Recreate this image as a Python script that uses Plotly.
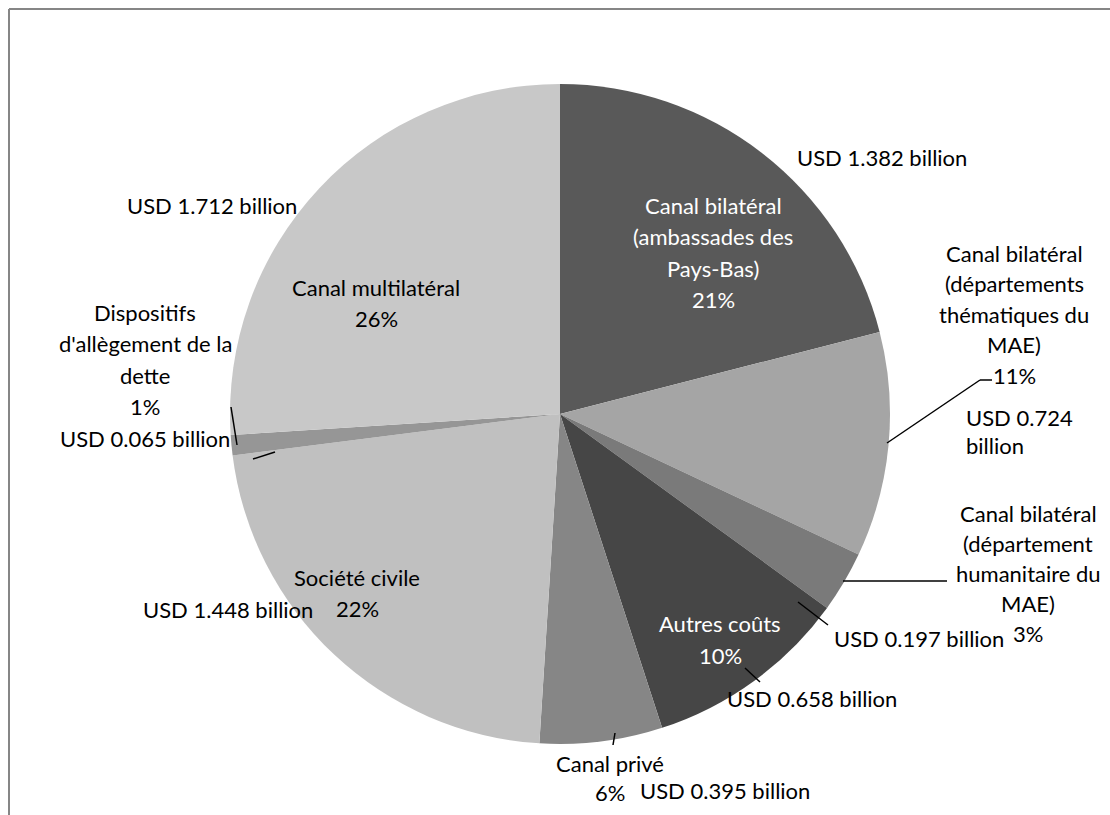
import plotly.graph_objects as go

# Dutch ODA by delivery channel (USD billion), clockwise from 12 o'clock
channels = [
    "Canal bilatéral (ambassades des Pays-Bas)",
    "Canal bilatéral (départements thématiques du MAE)",
    "Canal bilatéral (département humanitaire du MAE)",
    "Autres coûts",
    "Canal privé",
    "Société civile",
    "Dispositifs d'allègement de la dette",
    "Canal multilatéral",
]
amounts_usd_bn = [1.382, 0.724, 0.197, 0.658, 0.395, 1.448, 0.065, 1.712]
slice_colors = ["#595959", "#a5a5a5", "#7a7a7a", "#464646",
                "#868686", "#c0c0c0", "#969696", "#c8c8c8"]

W, H = 1110, 815
CX, CY, R = 560, 414, 330  # pie centre and radius, px

total = sum(amounts_usd_bn)
pct = [round(100 * v / total) for v in amounts_usd_bn]
usd = [f"USD {v:.3f} billion" for v in amounts_usd_bn]

fig = go.Figure(go.Pie(
    labels=channels,
    values=amounts_usd_bn,
    sort=False,
    direction="clockwise",
    rotation=0,
    marker=dict(colors=slice_colors, line=dict(width=0)),
    textinfo="none",
    hoverinfo="label+value+percent",
    showlegend=False,
    domain=dict(x=[(CX - R) / W, (CX + R) / W],
                y=[1 - (CY + R) / H, 1 - (CY - R) / H]),
))

FONT = "Lato, 'Open Sans', sans-serif"


def px(x, y):
    return x / W, 1 - y / H


# label blocks: (lines, x px, first-line y px, line pitch px, colour, align)
label_blocks = [
    ([usd[0]], 882, 157, 31, "black", "center"),
    (["Canal bilatéral", "(ambassades des", "Pays-Bas)", f"{pct[0]}%"],
     713, 205, 31.5, "white", "center"),
    (["Canal bilatéral", "(départements", "thématiques du", "MAE)", f"{pct[1]}%"],
     1014, 253, 30.5, "black", "center"),
    (["USD 0.724", "billion"], 964, 417, 29, "black", "left"),
    (["Canal bilatéral", "(département", "humanitaire du", "MAE)", f"{pct[2]}%"],
     1028, 513, 30, "black", "center"),
    ([usd[2]], 919, 638, 31, "black", "center"),
    (["Autres coûts", f"{pct[3]}%"], 720, 623, 32, "white", "center"),
    ([usd[3]], 812, 698, 31, "black", "center"),
    (["Canal privé", f"{pct[4]}%"], 610, 763, 29, "black", "center"),
    ([usd[4]], 725, 790, 31, "black", "center"),
    (["Société civile", f"{pct[5]}%"], 357, 577, 31, "black", "center"),
    ([usd[5]], 228, 609, 31, "black", "center"),
    (["Dispositifs", "d'allègement de la", "dette", f"{pct[6]}%", usd[6]],
     145, 312, 31.5, "black", "center"),
    (["Canal multilatéral", f"{pct[7]}%"], 376, 288, 30, "black", "center"),
    ([usd[7]], 212, 205, 31, "black", "center"),
]

for lines, x, y0, pitch, col, align in label_blocks:
    xanchor = "left" if align == "left" else "center"
    for i, line in enumerate(lines):
        ax, ay = px(x, y0 + i * pitch)
        fig.add_annotation(x=ax, y=ay, xref="paper", yref="paper", text=line,
                           showarrow=False, xanchor=xanchor, yanchor="middle",
                           align=align, font=dict(family=FONT, size=22, color=col))

# leader lines (px polylines)
leaders = [
    [(887, 443), (980, 380), (992, 380)],
    [(843, 581), (947, 581)],
    [(798, 602), (828, 625)],
    [(745, 668), (760, 682)],
    [(615, 733), (613, 745)],
    [(231, 407), (237, 445)],
    [(253, 459), (275, 452)],
]
for pts in leaders:
    for (x0, y0), (x1, y1) in zip(pts[:-1], pts[1:]):
        a0, b0 = px(x0, y0)
        a1, b1 = px(x1, y1)
        fig.add_shape(type="line", xref="paper", yref="paper",
                      x0=a0, y0=b0, x1=a1, y1=b1,
                      line=dict(color="black", width=1.5))

# chart-area frame (top and left edges)
fx, fy = px(9, 9)
fig.add_shape(type="line", xref="paper", yref="paper", x0=fx, y0=fy, x1=1.0, y1=fy,
              line=dict(color="#868686", width=2))
fig.add_shape(type="line", xref="paper", yref="paper", x0=fx, y0=fy, x1=fx, y1=0.0,
              line=dict(color="#868686", width=2))

fig.update_layout(
    width=W, height=H,
    margin=dict(l=0, r=0, t=0, b=0),
    paper_bgcolor="white",
    plot_bgcolor="white",
    font=dict(family=FONT, size=22, color="black"),
)

fig.write_html("out.html")
